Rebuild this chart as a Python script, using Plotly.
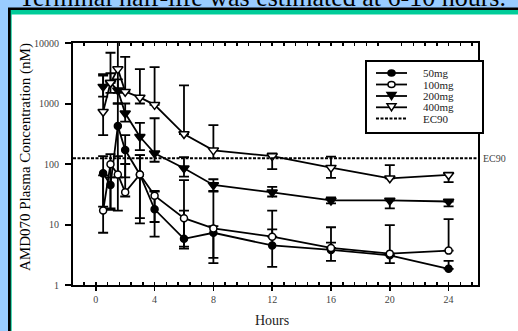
import math
import plotly.graph_objects as go

# ---------------- data ----------------
hours = [0.5, 1, 1.5, 2, 3, 4, 6, 8, 12, 16, 20, 24]

conc_50 = [70, 45, 425, 170, 67, 17.8, 5.8, 7.3, 4.5, 3.8, 3.1, 1.85]
hi_50 = [135, 60, 1000, 300, 140, 35, 17, 9.4, 8.3, 5.0, None, 2.5]
lo_50 = [19.7, 17.4, 60, 60, 10.4, 6.3, 4.3, 2.3, 2.0, 2.5, 2.3, None]

conc_100 = [17, 99, 67, 34, 67, 30, 12.7, 8.6, 6.3, 4.1, 3.3, 3.7]
hi_100 = [65, 146, 135, 100, 140, 36, 54, 36, 17, 9.0, 9.8, 12.3]
lo_100 = [7.3, 18.5, 17, 29, 12.7, 11, 4.0, 2.8, None, None, None, None]

conc_200 = [1900, 2200, 1650, 690, 282, 150, 85, 45, 34, 25, 25, 24]
hi_200 = [2900, 3160, 2500, 1000, 480, 570, 130, 56, 42, 28, None, None]
lo_200 = [1300, 1500, 1000, 500, 170, 109, 62, 35, 29, 22.4, 18.5, 20]

conc_400 = [730, 2200, 3700, 1570, 1260, 950, 313, 168, 135, 87, 58, 66]
hi_400 = [3070, 6900, 12000, 5900, 3700, 4000, 2000, 440, 150, 132, 96, 72]
lo_400 = [300, None, 1500, None, 1000, None, None, 124, 82, 59, None, 50]

ec90 = 125

series_names = ["50mg", "100mg", "200mg", "400mg"]
x_ticks = [0, 4, 8, 12, 16, 20, 24]
x_tick_labels = ["0", "4", "8", "12", "16", "20", "24"]
y_ticks = [1, 10, 100, 1000, 10000]
y_tick_labels = ["1", "10", "100", "1000", "10000"]

title_text = "Terminal half-life was estimated at 6-10 hours."
y_title = "AMD070 Plasma Concentration (nM)"
x_title = "Hours"

# ---------------- layout geometry ----------------
W, H = 518, 331
L, R, T, B = 73, 40, 43, 46
PW, PH = W - L - R, H - T - B
X_RANGE = [-1.55, 26]
SERIF = "Liberation Serif, Times New Roman, serif"


def px(x):
    return (x - L) / PW


def py(y):
    return (H - B - y) / PH


def errs(mean, hi, lo):
    plus = [(h - m) if h is not None else 0 for m, h in zip(mean, hi)]
    minus = [(m - l) if l is not None else 0 for m, l in zip(mean, lo)]
    return plus, minus


styles = [
    dict(symbol="circle", size=7, color="black", line=dict(color="black", width=1.5)),
    dict(symbol="circle", size=7, color="white", line=dict(color="black", width=1.5)),
    dict(symbol="triangle-down", size=9, color="black", line=dict(color="black", width=1.5)),
    dict(symbol="triangle-down", size=9, color="white", line=dict(color="black", width=1.5)),
]
data = [
    (conc_50, hi_50, lo_50),
    (conc_100, hi_100, lo_100),
    (conc_200, hi_200, lo_200),
    (conc_400, hi_400, lo_400),
]

fig = go.Figure()
for name, (m, hi, lo), st in zip(series_names, data, styles):
    plus, minus = errs(m, hi, lo)
    fig.add_trace(go.Scatter(
        x=hours, y=m, name=name, mode="lines+markers",
        line=dict(color="black", width=1.8),
        marker=st,
        error_y=dict(type="data", symmetric=False, array=plus, arrayminus=minus,
                     color="black", thickness=1.8, width=5),
        showlegend=False,
    ))

fig.add_trace(go.Scatter(
    x=X_RANGE, y=[ec90, ec90], name="EC90", mode="lines",
    line=dict(color="black", width=2, dash="3px,1.5px"),
    showlegend=False, xaxis="x2",
))

shapes = []
# page background panel
shapes.append(dict(type="rect", xref="paper", yref="paper", x0=px(8), x1=px(525),
                   y0=py(340), y1=py(7.5), fillcolor="black", line=dict(width=0), layer="below"))
shapes.append(dict(type="rect", xref="paper", yref="paper", x0=px(10.7), x1=px(525),
                   y0=py(340), y1=py(10), fillcolor="#00cc99", line=dict(width=0), layer="below"))
shapes.append(dict(type="rect", xref="paper", yref="paper", x0=px(11.7), x1=px(525),
                   y0=py(340), y1=py(14.5), fillcolor="white", line=dict(width=0), layer="below"))

# custom legend
shapes.append(dict(type="rect", xref="paper", yref="paper", x0=px(366), x1=px(483),
                   y0=py(133), y1=py(61), fillcolor="white", line=dict(color="black", width=2),
                   layer="above"))
annotations = []
leg_y = [73, 84.5, 96, 107.3, 118.5]
lx0, lx1, lxc = 376, 407, 391.5
for i, name in enumerate(series_names + ["EC90"]):
    yy = leg_y[i]
    if name == "EC90":
        shapes.append(dict(type="line", xref="paper", yref="paper", x0=px(lx0), x1=px(lx1),
                           y0=py(yy), y1=py(yy), line=dict(color="black", width=2, dash="3px,1.5px")))
    else:
        shapes.append(dict(type="line", xref="paper", yref="paper", x0=px(lx0), x1=px(lx1),
                           y0=py(yy), y1=py(yy), line=dict(color="black", width=1.8)))
        fill = "black" if i in (0, 2) else "white"
        if i < 2:
            shapes.append(dict(type="circle", xref="paper", yref="paper",
                               x0=px(lxc - 3.5), x1=px(lxc + 3.5), y0=py(yy + 3), y1=py(yy - 3),
                               fillcolor=fill, line=dict(color="black", width=1.5)))
        else:
            path = "M {:.5f},{:.5f} L {:.5f},{:.5f} L {:.5f},{:.5f} Z".format(
                px(lxc - 4.5), py(yy - 3.5), px(lxc + 4.5), py(yy - 3.5), px(lxc), py(yy + 3.5))
            shapes.append(dict(type="path", xref="paper", yref="paper", path=path,
                               fillcolor=fill, line=dict(color="black", width=1.5)))
    annotations.append(dict(xref="paper", yref="paper", x=px(422), y=py(yy), text=name,
                            showarrow=False, xanchor="left", yanchor="middle", borderpad=0,
                            font=dict(family=SERIF, size=11, color="#222")))

# EC90 label at right
annotations.append(dict(xref="paper", yref="y", x=px(481), y=math.log10(ec90), text="EC90",
                        showarrow=False, xanchor="left", yanchor="middle",
                        font=dict(family=SERIF, size=10, color="#444")))
# title (cut off at top)
annotations.append(dict(xref="paper", yref="paper", x=px(262), y=py(14), text=title_text,
                        showarrow=False, xanchor="center", yanchor="bottom",
                        font=dict(family=SERIF, size=26, color="black")))
# axis titles
annotations.append(dict(xref="paper", yref="paper", x=px(25), y=py(157), text=y_title,
                        showarrow=False, xanchor="center", yanchor="middle", textangle=-90,
                        font=dict(family=SERIF, size=15, color="black")))
annotations.append(dict(xref="paper", yref="paper", x=px(272), y=py(320), text=x_title,
                        showarrow=False, xanchor="center", yanchor="middle",
                        font=dict(family=SERIF, size=14, color="#222")))

fig.update_layout(
    width=W, height=H,
    margin=dict(l=L, r=R, t=T, b=B, pad=0),
    paper_bgcolor="#99ccff",
    plot_bgcolor="white",
    shapes=shapes,
    annotations=annotations,
    showlegend=False,
    xaxis=dict(
        range=X_RANGE, tickmode="array", tickvals=x_ticks, ticktext=x_tick_labels,
        ticks="outside", ticklen=4, tickwidth=1.5, tickcolor="black",
        showline=True, linecolor="black", linewidth=2, mirror=True,
        showgrid=False, zeroline=False,
        tickfont=dict(family=SERIF, size=10, color="#444"),
        minor=dict(ticks="inside", ticklen=3, tickwidth=1.5, tickcolor="black",
                   tick0=0, dtick=0.8, showgrid=False),
    ),
    xaxis2=dict(
        range=X_RANGE, overlaying="x", side="top", anchor="y",
        showticklabels=False, ticks="", showline=False, showgrid=False, zeroline=False,
        minor=dict(ticks="inside", ticklen=3, tickwidth=1.5, tickcolor="black",
                   tick0=0, dtick=0.8, showgrid=False),
    ),
    yaxis=dict(
        type="log", range=[0, 4], tickmode="array", tickvals=y_ticks, ticktext=y_tick_labels,
        ticks="outside", ticklen=6, tickwidth=2, tickcolor="black",
        showline=True, linecolor="black", linewidth=2, mirror=True,
        showgrid=False, zeroline=False, ticklabelstandoff=4,
        tickfont=dict(family=SERIF, size=10, color="#444"),
    ),
)

fig.write_html(
    "out.html",
    config={"displayModeBar": False, "staticPlot": True},
    post_script="document.body.style.margin='0px';document.body.style.overflow='hidden';",
)
